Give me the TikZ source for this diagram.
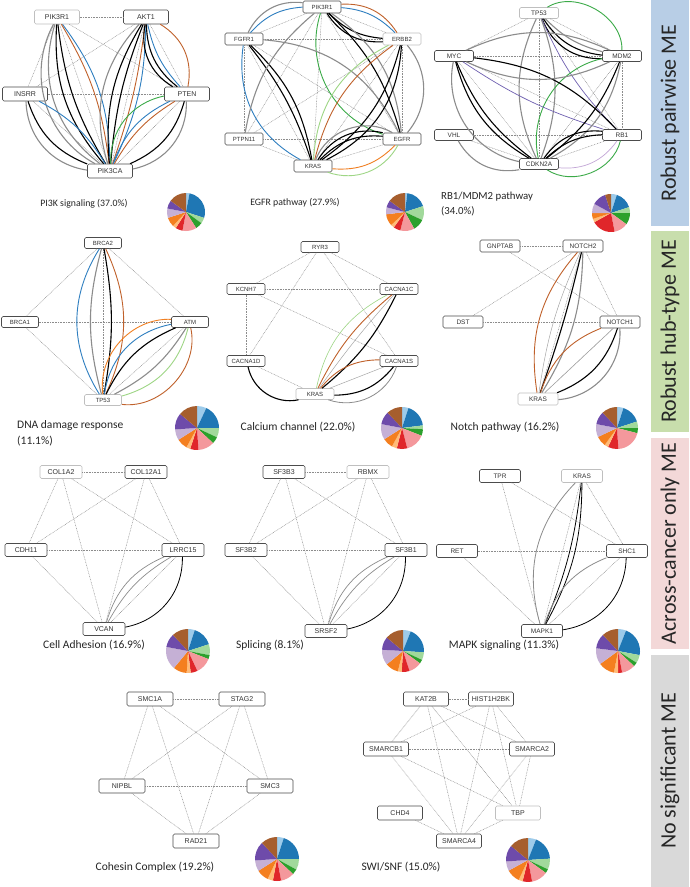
\documentclass[tikz,border=0pt]{standalone}
\usepackage{fontspec}
\setmainfont{Carlito}
\newfontfamily\genefont{Liberation Sans}
\usepackage{tikz}
\usetikzlibrary{positioning}
\definecolor{mebar}{HTML}{B8CEE6}
\definecolor{hubbar}{HTML}{C8DEAC}
\definecolor{acbar}{HTML}{F3D8D8}
\definecolor{nsbar}{HTML}{D9D9D9}
\definecolor{cblue}{HTML}{2E7EC0}
\definecolor{cbrown}{HTML}{C0612B}
\definecolor{cgreen}{HTML}{3BAA48}
\definecolor{clgreen}{HTML}{9ED685}
\definecolor{corange}{HTML}{F07F22}
\definecolor{cpurple}{HTML}{6F60B0}
\definecolor{clpurple}{HTML}{C2A5D6}
\definecolor{pie1}{HTML}{9DCBEA}
\definecolor{pie2}{HTML}{1F77B4}
\definecolor{pie3}{HTML}{A1D99B}
\definecolor{pie4}{HTML}{2CA02C}
\definecolor{pie5}{HTML}{F4989C}
\definecolor{pie6}{HTML}{E0262A}
\definecolor{pie7}{HTML}{FFBB78}
\definecolor{pie8}{HTML}{F47F1F}
\definecolor{pie9}{HTML}{C5B0D5}
\definecolor{pie10}{HTML}{6E4BAA}
\definecolor{pie11}{HTML}{A65E2E}
\tikzset{
  gbox/.style  ={rectangle, rounded corners=1.5pt, draw=black!70, fill=white, line width=0.6pt,
                 inner sep=0pt, minimum width=40, minimum height=12, text=black!80,
                 font=\genefont\fontsize{6.5}{7}\selectfont},
  gboxl/.style ={gbox, draw=black!25},
  dl/.style    ={draw=black!45, line width=0.45pt, dash pattern=on 0.8pt off 0.8pt},
  mgray/.style ={draw=black!45, line width=1.1pt},
  mblack/.style={draw=black, line width=1.1pt},
  mblue/.style ={draw=cblue, line width=0.9pt},
  mbrown/.style={draw=cbrown, line width=0.9pt},
  mgreen/.style={draw=cgreen, line width=0.9pt},
  mlgreen/.style={draw=clgreen, line width=0.9pt},
  morange/.style={draw=corange, line width=0.9pt},
  mpurple/.style={draw=cpurple, line width=0.7pt},
  mlpurple/.style={draw=clpurple, line width=0.7pt},
  mthin/.style ={draw=black!35, line width=0.5pt},
  ttls/.style  ={font=\fontsize{9.8}{15}\selectfont, text=black!85, inner sep=0pt},
  ttl/.style   ={font=\fontsize{11.5}{16}\selectfont, text=black!85, inner sep=0pt},
  band/.style  ={rotate=90, minimum height=38, inner sep=0pt, text=black!85,
                 font=\fontsize{22}{24}\selectfont},
}
\newcommand{\mepie}[3]{%
  \gdef\pieacc{0}%
  \foreach \v [count=\i] in {#3}{%
    \pgfmathsetmacro{\sa}{90-3.6*\pieacc}%
    \pgfmathsetmacro{\ea}{90-3.6*(\pieacc+\v)}%
    \fill[pie\i] (#1) -- ++(\sa:#2) arc[start angle=\sa, end angle=\ea, radius=#2] -- cycle;
    \pgfmathsetmacro{\pieaccn}{\pieacc+\v}%
    \xdef\pieacc{\pieaccn}%
  }}

\begin{document}
\begin{tikzpicture}[x=1pt, y=1pt]
  \fill[white] (0,0) rectangle (689,-887);
  \useasboundingbox (0,0) rectangle (689,-887);

  \node[band, fill=mebar, minimum width=226] (bpair) at (670,-113) {Robust pairwise ME};
  \node[band, fill=hubbar, minimum width=201] (bhub) at (670,-331.5) {Robust hub-type ME};
  \node[band, fill=acbar, minimum width=211] (bacross) at (670,-543.5) {Across-cancer only ME};
  \node[band, fill=nsbar, minimum width=232] (bnone) at (670,-771) {No significant ME};

  % PI3K signaling
  \begin{scope}[gbox/.append style={minimum width=45, minimum height=14, font=\genefont\fontsize{7}{8}\selectfont}]
    \node[gboxl] (pikr) at (57,-17) {PIK3R1};
    \node[gbox] (akt) at (146,-17) {AKT1};
    \node[gbox] (insrr) at (25,-94) {INSRR};
    \node[gbox] (pten) at (187,-94) {PTEN};
    \node[gbox] (pikca) at (110,-171) {PIK3CA};
    \foreach \a/\b in {pikr/akt, pikr/insrr, pikr/pten, pikr/pikca, akt/insrr, akt/pten, akt/pikca, insrr/pten, insrr/pikca, pten/pikca}
      \draw[dl] (\a) -- (\b);
    \draw[mgray] (pikr) to[bend right=45] (pikca);
    \draw[mgray] (pikr) to[bend right=35] (pikca);
    \draw[mblack] (pikr) to[bend right=22] (pikca);
    \draw[mblack] (pikr) to[bend right=12] (pikca);
    \draw[mblue] (pikr) to[bend left=18] (pikca);
    \draw[mbrown] (pikr) to[bend left=12] (pikca);
    \draw[mgray] (akt) to[bend right=30] (pikca);
    \draw[mblack] (akt) to[bend right=18] (pikca);
    \draw[mblack] (akt) to[bend right=8] (pikca);
    \draw[mblue] (akt) to[bend left=12] (pikca);
    \draw[mbrown] (akt) to[bend left=6] (pikca);
    \draw[mblack] (akt) to[bend right=35] (pten);
    \draw[mblack] (akt) to[bend right=25] (pten);
    \draw[mblue] (akt) to[bend right=15] (pten);
    \draw[mbrown] (akt) to[bend left=35] (pten);
    \draw[mgray] (insrr) to[bend right=40] (pikca);
    \draw[mblack] (insrr) to[bend right=25] (pikca);
    \draw[mblue] (insrr) to[bend left=15] (pikca);
    \draw[mgray] (pten) to[bend left=40] (pikca);
    \draw[mblack] (pten) to[bend left=25] (pikca);
    \draw[mgreen] (pten) to[bend right=40] (pikca);
    \draw[mblue] (pten) to[bend right=22] (pikca);
    \draw[mbrown] (pten) to[bend right=14] (pikca);
  \end{scope}
  \node[ttls] (t1) at (84,-204) {PI3K signaling (37.0\%)};
  \mepie{186,-212}{19}{3,27,5,6,12,6,3,8,8,7,15}

  % EGFR pathway
  \begin{scope}[gbox/.append style={minimum width=38, minimum height=12, font=\genefont\fontsize{6}{7}\selectfont}]
    \node[gbox] (pikr2) at (322,-7) {PIK3R1};
    \node[gbox] (fgfr) at (244,-39) {FGFR1};
    \node[gboxl] (erbb) at (402,-39) {ERBB2};
    \node[gbox] (ptpn) at (244,-139) {PTPN11};
    \node[gbox] (egfr) at (402,-139) {EGFR};
    \node[gbox] (kras2) at (313,-166) {KRAS};
    \foreach \a/\b in {pikr2/fgfr, pikr2/erbb, pikr2/ptpn, pikr2/egfr, pikr2/kras2, fgfr/erbb, fgfr/ptpn, fgfr/egfr, fgfr/kras2, erbb/ptpn, erbb/egfr, erbb/kras2, ptpn/egfr, ptpn/kras2, egfr/kras2}
      \draw[dl] (\a) -- (\b);
    \draw[mgray] (pikr2) to[bend right=35] (fgfr);
    \draw[mblue] (pikr2) to[bend right=22] (fgfr);
    \draw[mbrown] (pikr2) to[bend left=30] (erbb);
    \draw[mblue] (pikr2) to[bend left=20] (erbb);
    \draw[mblack] (pikr2) to[bend right=20] (erbb);
    \draw[mblack] (pikr2) to[bend right=30] (erbb);
    \draw[mgreen] (pikr2) to[bend right=45] (egfr);
    \draw[mblack] (pikr2) to[bend left=15] (egfr);
    \draw[mgray] (pikr2) to[bend left=25] (egfr);
    \draw[mblack] (fgfr) to[bend left=10] (kras2);
    \draw[mblack] (fgfr) to[bend left=18] (kras2);
    \draw[mblue] (fgfr) to[bend right=35] (kras2);
    \draw[mgray] (fgfr) to[bend left=30] (egfr);
    \draw[mgray] (ptpn) to[bend left=20] (pikr2);
    \draw[mblack] (erbb) to[bend left=20] (kras2);
    \draw[mblack] (erbb) to[bend left=30] (kras2);
    \draw[mbrown] (erbb) to[bend right=20] (kras2);
    \draw[mlgreen] (erbb) to[bend right=30] (kras2);
    \draw[mgray] (erbb) to[bend left=40] (egfr);
    \draw[mblack] (kras2) to[bend left=25] (egfr);
    \draw[mblack] (kras2) to[bend left=35] (egfr);
    \draw[mgray] (kras2) to[bend left=50] (egfr);
    \draw[morange] (kras2) to[bend right=25] (egfr);
    \draw[mlgreen] (kras2) to[bend right=40] (egfr);
  \end{scope}
  \node[ttls] (t2) at (295,-203) {EGFR pathway (27.9\%)};
  \mepie{405,-212}{19}{2,18,12,10,12,6,3,10,6,6,15}

  % RB1/MDM2 pathway
  \begin{scope}[gbox/.append style={minimum width=39, minimum height=11}]
    \node[gboxl] (tp) at (539,-13) {TP53};
    \node[gbox] (myc) at (454,-56) {MYC};
    \node[gbox] (mdm) at (622,-56) {MDM2};
    \node[gbox] (vhl) at (454,-135) {VHL};
    \node[gbox] (rb) at (622,-135) {RB1};
    \node[gbox] (cdk) at (539,-164) {CDKN2A};
    \foreach \a/\b in {tp/myc, tp/mdm, tp/rb, tp/cdk, myc/mdm, myc/rb, myc/cdk, mdm/rb, mdm/cdk, rb/cdk, vhl/cdk, vhl/rb}
      \draw[dl] (\a) -- (\b);
    \draw[mblack] (tp) to[bend right=25] (mdm);
    \draw[mblack] (tp) to[bend right=35] (mdm);
    \draw[mgray] (tp) to[bend right=15] (mdm);
    \draw[mpurple] (tp) to[bend right=10] (rb);
    \draw[mgray] (tp) to[bend right=25] (cdk);
    \draw[mgray] (tp) to[bend left=20] (cdk);
    \draw[mgreen] (tp) to[bend left=62] (mdm);
    \draw[mgreen] (mdm) to[bend right=45] (cdk);
    \draw[mgreen] (cdk) to[bend right=55] (rb);
    \draw[mblack] (myc) to[bend left=20] (rb);
    \draw[mpurple] (myc) to[bend right=8] (rb);
    \draw[mblack] (myc) to[bend right=15] (cdk);
    \draw[mblack] (myc) to[bend right=22] (cdk);
    \draw[mgray] (myc) to[bend right=45] (cdk);
    \draw[mgray] (myc) to[bend right=25] (mdm);
    \draw[mgray] (myc) to[bend left=25] (mdm);
    \draw[mblack] (mdm) to[bend left=15] (cdk);
    \draw[mgray] (mdm) to[bend left=25] (cdk);
    \draw[mblack] (rb) to[bend right=20] (cdk);
    \draw[mblack] (rb) to[bend right=30] (cdk);
    \draw[mlpurple] (rb) to[bend left=30] (cdk);
    \draw[mgray] (vhl) to[bend right=35] (cdk);
  \end{scope}
  \node[ttl, font=\fontsize{10.8}{15}\selectfont, align=left, anchor=north west] (t3) at (441,-192) {RB1/MDM2 pathway\\(34.0\%)};
  \mepie{611,-213}{19}{5,15,5,10,12,20,3,5,8,12,5}

  % DNA damage response
  \begin{scope}[gbox/.append style={minimum width=37, minimum height=11, font=\genefont\fontsize{6}{7}\selectfont}]
    \node[gbox] (brca2) at (103,-243) {BRCA2};
    \node[gbox] (brca1) at (20,-322) {BRCA1};
    \node[gbox] (atm) at (190,-322) {ATM};
    \node[gboxl] (tp53b) at (103,-400) {TP53};
    \foreach \a/\b in {brca2/brca1, brca2/atm, brca2/tp53b, brca1/atm, brca1/tp53b, atm/tp53b}
      \draw[dl] (\a) -- (\b);
    \draw[mblue] (brca2) to[bend right=32] (tp53b);
    \draw[mgray] (brca2) to[bend right=15] (tp53b);
    \draw[mblack] (brca2) to[bend left=10] (tp53b);
    \draw[mbrown] (brca2) to[bend left=25] (tp53b);
    \draw[morange] (atm) to[bend right=50] (tp53b);
    \draw[mblue] (atm) to[bend right=35] (tp53b);
    \draw[mblack] (atm) to[bend right=20] (tp53b);
    \draw[mgray] (atm) to[bend left=15] (tp53b);
    \draw[mlgreen] (atm) to[bend left=30] (tp53b);
    \draw[mbrown] (atm) to[bend left=55] (tp53b);
  \end{scope}
  \node[ttl, align=left, anchor=north west] (t4) at (17,-420) {DNA damage response\\(11.1\%)};
  \mepie{197,-428}{22}{7,18,7,5,12,6,3,8,8,12,14}

  % Calcium channel
  \begin{scope}[gbox/.append style={minimum width=38, minimum height=11, font=\genefont\fontsize{6}{7}\selectfont}]
    \node[gbox] (ryr) at (320,-247) {RYR3};
    \node[gbox] (kcnh) at (246,-289) {KCNH7};
    \node[gbox] (c1c) at (399,-289) {CACNA1C};
    \node[gbox] (c1d) at (246,-361) {CACNA1D};
    \node[gbox] (c1s) at (399,-361) {CACNA1S};
    \node[gboxl] (kras5) at (315,-394) {KRAS};
    \foreach \a/\b in {ryr/kcnh, ryr/c1c, ryr/c1d, ryr/c1s, kcnh/c1c, kcnh/c1d, kcnh/c1s, c1d/kras5}
      \draw[dl] (\a) -- (\b);
    \draw[mlgreen, line width=0.6pt] (kras5) to[bend left=25] (c1c);
    \draw[mbrown] (kras5) to[bend left=12] (c1c);
    \draw[mthin] (kras5) to[bend left=3] (c1c);
    \draw[mblack] (kras5) to[bend right=12] (c1c);
    \draw[mbrown] (kras5) to[bend left=25] (c1s);
    \draw[mthin] (kras5) to (c1s);
    \draw[mblack] (kras5) to[bend right=25] (c1s);
    \draw[mgray, line width=0.8pt] (kras5) to[bend right=45] (c1s);
    \draw[mblack] (c1d) to[bend right=45] (kras5);
  \end{scope}
  \node[ttl] (t5) at (298,-427) {Calcium channel (22.0\%)};
  \mepie{402,-428}{21}{5,18,3,5,15,8,4,8,12,10,12}

  % Notch pathway
  \begin{scope}[gbox/.append style={minimum width=40, minimum height=12}]
    \node[gbox] (gnp) at (500,-246) {GNPTAB};
    \node[gbox] (notch2) at (583,-246) {NOTCH2};
    \node[gbox] (dst) at (463,-322) {DST};
    \node[gbox] (notch1) at (620,-322) {NOTCH1};
    \node[gboxl] (kras6) at (538,-399) {KRAS};
    \foreach \a/\b in {gnp/notch2, gnp/notch1, dst/notch2, dst/notch1, notch2/notch1, notch2/kras6, notch1/kras6}
      \draw[dl] (\a) -- (\b);
    \draw[mbrown] (notch2) to[bend right=25] (kras6);
    \draw[mthin] (notch2) to[bend right=8] (kras6);
    \draw[mblack] (notch2) to[bend left=3] (kras6);
    \draw[mgray] (notch2) to[bend left=15] (kras6);
    \draw[mbrown] (notch1) to[bend right=25] (kras6);
    \draw[mthin] (notch1) to (kras6);
    \draw[mblack] (notch1) to[bend left=25] (kras6);
    \draw[mgray] (notch1) to[bend left=45] (kras6);
  \end{scope}
  \node[ttl] (t6) at (505,-427) {Notch pathway (16.2\%)};
  \mepie{617,-428}{21}{5,15,5,4,20,8,3,8,10,10,12}

  % Cell Adhesion
  \begin{scope}[gbox/.append style={minimum width=42, minimum height=13, font=\genefont\fontsize{7}{8}\selectfont}]
    \node[gboxl] (col1) at (61,-472) {COL1A2};
    \node[gbox] (col12) at (146,-472) {COL12A1};
    \node[gbox] (cdh) at (26,-550) {CDH11};
    \node[gbox] (lrrc) at (183,-550) {LRRC15};
    \node[gbox] (vcan) at (104,-629) {VCAN};
    \foreach \a/\b in {col1/col12, col1/cdh, col1/lrrc, col1/vcan, col12/cdh, col12/lrrc, col12/vcan, cdh/lrrc, cdh/vcan, lrrc/vcan}
      \draw[dl] (\a) -- (\b);
    \draw[mgray, line width=0.7pt] (lrrc) to[bend right=25] (vcan);
    \draw[mgray, line width=0.7pt] (lrrc) to[bend right=15] (vcan);
    \draw[mblack, line width=0.8pt] (lrrc) to[bend left=40] (vcan);
  \end{scope}
  \node[ttl] (t7) at (94,-645) {Cell Adhesion (16.9\%)};
  \mepie{188,-651}{22}{5,15,8,3,12,5,3,10,17,10,12}

  % Splicing
  \begin{scope}[gbox/.append style={minimum width=42, minimum height=13, font=\genefont\fontsize{7}{8}\selectfont}]
    \node[gbox] (sf3b3) at (284,-472) {SF3B3};
    \node[gboxl] (rbmx) at (368,-472) {RBMX};
    \node[gbox] (sf3b2) at (246,-550) {SF3B2};
    \node[gbox] (sf3b1) at (406,-550) {SF3B1};
    \node[gbox] (srsf) at (326,-631) {SRSF2};
    \foreach \a/\b in {sf3b3/rbmx, sf3b3/sf3b2, sf3b3/sf3b1, sf3b3/srsf, rbmx/sf3b2, rbmx/sf3b1, rbmx/srsf, sf3b2/sf3b1, sf3b2/srsf, sf3b1/srsf}
      \draw[dl] (\a) -- (\b);
    \draw[mgray, line width=0.7pt] (sf3b1) to[bend right=25] (srsf);
    \draw[mgray, line width=0.7pt] (sf3b1) to[bend right=15] (srsf);
    \draw[mblack, line width=0.8pt] (sf3b1) to[bend left=40] (srsf);
  \end{scope}
  \node[ttl] (t8) at (270,-645) {Splicing (8.1\%)};
  \mepie{403,-651}{21}{6,20,6,3,10,6,3,10,12,10,14}

  % MAPK signaling
  \begin{scope}[gbox/.append style={minimum width=41, minimum height=13}]
    \node[gbox] (tpr) at (500,-476) {TPR};
    \node[gboxl] (kras9) at (582,-476) {KRAS};
    \node[gbox] (ret) at (457,-551) {RET};
    \node[gbox] (shc) at (627,-551) {SHC1};
    \node[gbox] (mapk) at (542,-631) {MAPK1};
    \foreach \a/\b in {tpr/shc, tpr/mapk, kras9/mapk, kras9/shc, ret/shc, ret/mapk, shc/mapk}
      \draw[dl] (\a) -- (\b);
    \draw[mgray, line width=0.8pt] (kras9) to[bend right=30] (mapk);
    \draw[mblack, line width=0.8pt] (kras9) to[bend left=8] (mapk);
    \draw[mblack, line width=0.8pt] (kras9) to[bend left=14] (mapk);
    \draw[mgray, line width=0.8pt] (shc) to[bend right=25] (mapk);
    \draw[mblack, line width=0.8pt] (shc) to[bend left=40] (mapk);
  \end{scope}
  \node[ttl] (t9) at (504,-645) {MAPK signaling (11.3\%)};
  \mepie{618,-651}{22}{6,22,6,3,10,3,3,12,12,11,12}

  % Cohesin Complex
  \begin{scope}[gbox/.append style={minimum width=46, minimum height=14, font=\genefont\fontsize{7}{8}\selectfont}]
    \node[gbox] (smc1) at (150,-699) {SMC1A};
    \node[gbox] (stag) at (242,-699) {STAG2};
    \node[gbox] (nipbl) at (122,-786) {NIPBL};
    \node[gbox] (smc3) at (270,-786) {SMC3};
    \node[gbox] (rad) at (196,-841) {RAD21};
    \foreach \a/\b in {smc1/stag, smc1/nipbl, smc1/smc3, smc1/rad, stag/nipbl, stag/smc3, stag/rad, nipbl/smc3, nipbl/rad, smc3/rad}
      \draw[dl] (\a) -- (\b);
  \end{scope}
  \node[ttl] (t10) at (155,-867) {Cohesin Complex (19.2\%)};
  \mepie{277,-859}{22}{5,20,8,4,10,6,4,9,8,14,12}

  % SWI/SNF
  \begin{scope}[gbox/.append style={minimum width=45, minimum height=14, font=\genefont\fontsize{7}{8}\selectfont}]
    \node[gbox] (kat) at (426,-699) {KAT2B};
    \node[gbox] (hist) at (491,-699) {HIST1H2BK};
    \node[gbox] (smb1) at (386,-749) {SMARCB1};
    \node[gbox] (sma2) at (532,-749) {SMARCA2};
    \node[gbox] (chd) at (400,-813) {CHD4};
    \node[gboxl] (tbp) at (518,-813) {TBP};
    \node[gbox] (sma4) at (459,-841) {SMARCA4};
    \foreach \a/\b in {kat/hist, kat/smb1, kat/sma2, kat/tbp, kat/sma4, hist/smb1, hist/sma2, hist/tbp, hist/sma4, smb1/sma2, smb1/tbp, smb1/sma4, sma2/tbp, sma2/sma4, chd/sma4, tbp/sma4}
      \draw[dl] (\a) -- (\b);
  \end{scope}
  \node[ttl] (t11) at (401,-867) {SWI/SNF (15.0\%)};
  \mepie{528,-860}{22}{6,18,8,3,12,7,3,10,7,12,14}
\end{tikzpicture}
\end{document}
